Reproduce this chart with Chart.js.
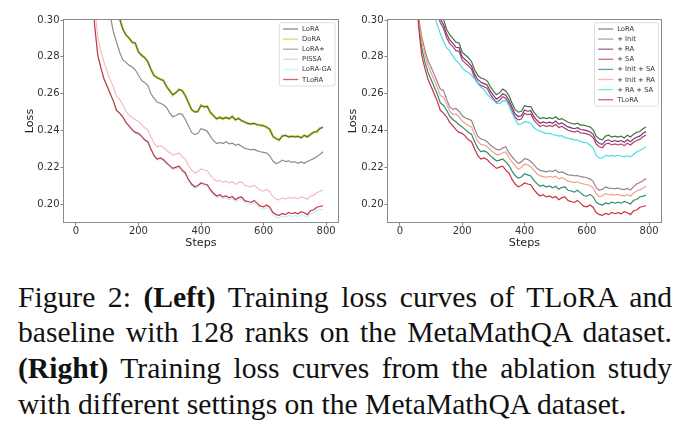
<!DOCTYPE html>
<html><head><meta charset="utf-8">
<script src="https://cdn.jsdelivr.net/npm/chart.js@4.4.1/dist/chart.umd.min.js"></script>
<style>
html,body{margin:0;padding:0;background:#fff;}
body{width:686px;height:440px;position:relative;overflow:hidden;}
canvas{position:absolute;top:0;}
#c1{left:0;} #c2{left:343px;}
#cap{position:absolute;left:18px;top:279.5px;width:654px;font-family:"Liberation Serif","Times New Roman",serif;font-size:29.6px;line-height:35.7px;color:#111;}
#cap div{text-align:justify;text-align-last:justify;}
#cap div.last{text-align:left;text-align-last:left;}
</style></head>
<body>
<canvas id="c1" width="343" height="258"></canvas>
<canvas id="c2" width="343" height="258"></canvas>
<div id="cap">
<div>Figure 2: <b>(Left)</b> Training loss curves of TLoRA and</div>
<div>baseline with 128 ranks on the MetaMathQA dataset.</div>
<div><b>(Right)</b> Training loss curves from the ablation study</div>
<div class="last">with different settings on the MetaMathQA dataset.</div>
</div>
<script>
const steps = [0,10,20,30,40,50,60,70,80,90,
100,110,120,130,140,150,160,170,180,190,
200,210,220,230,240,250,260,270,280,290,
300,310,320,330,340,350,360,370,380,390,
400,410,420,430,440,450,460,470,480,490,
500,510,520,530,540,550,560,570,580,590,
600,610,620,630,640,650,660,670,680,690,
700,710,720,730,740,750,760,770,780,790];

const xTicks = [0,200,400,600,800];
const yTicks = [0.20,0.22,0.24,0.26,0.28,0.30];

const tlora = [0.950,0.720,0.560,0.450,0.380,0.325,0.297,0.281,0.274,0.268,
0.264,0.260,0.256,0.2510,0.2495,0.2475,0.2445,0.2425,0.2405,0.2390,
0.2385,0.2370,0.2350,0.2340,0.2300,0.2265,0.2245,0.2252,0.2243,0.2225,
0.2210,0.2195,0.2202,0.2207,0.2185,0.2170,0.2135,0.2110,0.2095,0.2102,
0.2116,0.2110,0.2106,0.2080,0.2060,0.2045,0.2052,0.2040,0.2046,0.2035,
0.2042,0.2025,0.2036,0.2040,0.2020,0.2015,0.2010,0.2021,0.2005,0.1990,
0.1986,0.1996,0.1984,0.1955,0.1944,0.1940,0.1951,0.1944,0.1956,0.1949,
0.1955,0.1948,0.1960,0.1954,0.1944,0.1965,0.1969,0.1984,0.1988,0.1992];

const loraGA = [0.940,0.710,0.555,0.447,0.378,0.324,0.296,0.2805,0.2735,0.2675,
0.2635,0.2595,0.2555,0.2505,0.2490,0.2470,0.2440,0.2420,0.2400,0.2385,
0.2378,0.2364,0.2344,0.2334,0.2294,0.2259,0.2239,0.2246,0.2236,0.2218,
0.2203,0.2188,0.2194,0.2199,0.2177,0.2162,0.2127,0.2102,0.2087,0.2094,
0.2107,0.2101,0.2097,0.2071,0.2051,0.2036,0.2042,0.2030,0.2036,0.2025,
0.2031,0.2014,0.2025,0.2029,0.2009,0.2003,0.1998,0.2009,0.1993,0.1977,
0.1973,0.1983,0.1971,0.1941,0.1930,0.1926,0.1937,0.1930,0.1941,0.1934,
0.1940,0.1933,0.1944,0.1938,0.1928,0.1948,0.1952,0.1966,0.1970,0.1974];

const pissa = [0.960,0.740,0.580,0.470,0.395,0.337,0.307,0.291,0.283,0.277,
0.272,0.2675,0.2635,0.2585,0.2570,0.2540,0.2505,0.2485,0.2470,0.2460,
0.2450,0.2432,0.2415,0.2405,0.2365,0.2330,0.2312,0.2318,0.2310,0.2292,
0.2280,0.2268,0.2272,0.2278,0.2258,0.2245,0.2210,0.2185,0.2170,0.2176,
0.2192,0.2186,0.2182,0.2158,0.2138,0.2125,0.2130,0.2120,0.2126,0.2116,
0.2124,0.2108,0.2118,0.2122,0.2104,0.2098,0.2095,0.2104,0.2090,0.2076,
0.2072,0.2080,0.2068,0.2040,0.2028,0.2024,0.2035,0.2028,0.2038,0.2032,
0.2037,0.2030,0.2040,0.2035,0.2027,0.2045,0.2050,0.2063,0.2070,0.2078];

const loraPlus = [0.990,0.820,0.680,0.570,0.490,0.425,0.385,0.355,0.335,0.322,
0.311,0.302,0.2935,0.2880,0.2825,0.2785,0.2770,0.2755,0.2745,0.2730,
0.2700,0.2672,0.2660,0.2645,0.2600,0.2575,0.2555,0.2548,0.2540,0.2525,
0.2495,0.2475,0.2482,0.2492,0.2488,0.2460,0.2425,0.2390,0.2378,0.2385,
0.2410,0.2405,0.2396,0.2370,0.2345,0.2330,0.2336,0.2330,0.2340,0.2328,
0.2332,0.2320,0.2326,0.2315,0.2303,0.2300,0.2295,0.2298,0.2290,0.2285,
0.2282,0.2278,0.2262,0.2235,0.2220,0.2228,0.2240,0.2232,0.2236,0.2228,
0.2232,0.2222,0.2230,0.2222,0.2232,0.2240,0.2248,0.2258,0.2270,0.2285];

const lora = [1.000,0.850,0.720,0.620,0.540,0.480,0.430,0.390,0.365,0.345,
0.330,0.318,0.310,0.304,0.3005,0.2950,0.2920,0.2900,0.2880,0.2875,
0.2825,0.2810,0.2795,0.2775,0.2730,0.2700,0.2685,0.2680,0.2670,0.2640,
0.2615,0.2595,0.2605,0.2625,0.2615,0.2590,0.2550,0.2515,0.2500,0.2505,
0.2535,0.2530,0.2530,0.2500,0.2480,0.2465,0.2470,0.2465,0.2470,0.2465,
0.2475,0.2460,0.2465,0.2455,0.2445,0.2440,0.2435,0.2440,0.2430,0.2430,
0.2425,0.2420,0.2405,0.2370,0.2355,0.2350,0.2370,0.2375,0.2365,0.2370,
0.2365,0.2370,0.2360,0.2375,0.2365,0.2380,0.2390,0.2395,0.2410,0.2420];

const dora = [1.000,0.850,0.720,0.620,0.540,0.480,0.430,0.390,0.366,0.346,
0.331,0.319,0.311,0.305,0.3008,0.2953,0.2918,0.2903,0.2878,0.2872,
0.2828,0.2807,0.2798,0.2772,0.2733,0.2698,0.2688,0.2677,0.2673,0.2637,
0.2618,0.2592,0.2608,0.2622,0.2618,0.2587,0.2553,0.2512,0.2503,0.2502,
0.2538,0.2527,0.2533,0.2497,0.2483,0.2462,0.2473,0.2462,0.2473,0.2462,
0.2478,0.2457,0.2468,0.2452,0.2448,0.2437,0.2438,0.2437,0.2433,0.2427,
0.2428,0.2417,0.2408,0.2367,0.2358,0.2347,0.2373,0.2372,0.2368,0.2367,
0.2368,0.2367,0.2363,0.2372,0.2368,0.2377,0.2393,0.2392,0.2413,0.2417];

const plusRA = [1.000,0.840,0.710,0.610,0.530,0.470,0.420,0.382,0.358,0.339,
0.325,0.314,0.306,0.3005,0.2975,0.2925,0.2892,0.2875,0.2852,0.2850,
0.2800,0.2784,0.2770,0.2750,0.2705,0.2676,0.2662,0.2655,0.2647,0.2615,
0.2592,0.2570,0.2582,0.2600,0.2592,0.2566,0.2528,0.2490,0.2476,0.2480,
0.2512,0.2505,0.2508,0.2476,0.2456,0.2440,0.2447,0.2440,0.2446,0.2440,
0.2452,0.2435,0.2442,0.2430,0.2420,0.2415,0.2410,0.2416,0.2406,0.2404,
0.2400,0.2394,0.2380,0.2345,0.2330,0.2325,0.2345,0.2350,0.2340,0.2346,
0.2340,0.2346,0.2336,0.2350,0.2340,0.2355,0.2364,0.2370,0.2385,0.2395];

const plusSA = [0.990,0.830,0.700,0.600,0.520,0.460,0.415,0.378,0.354,0.336,
0.322,0.311,0.3035,0.2985,0.2955,0.2905,0.2872,0.2856,0.2834,0.2830,
0.2782,0.2766,0.2752,0.2733,0.2688,0.2658,0.2645,0.2638,0.2630,0.2598,
0.2574,0.2553,0.2564,0.2583,0.2575,0.2549,0.2510,0.2472,0.2458,0.2463,
0.2494,0.2487,0.2490,0.2458,0.2438,0.2422,0.2430,0.2422,0.2428,0.2422,
0.2434,0.2417,0.2424,0.2412,0.2402,0.2397,0.2392,0.2398,0.2388,0.2386,
0.2382,0.2376,0.2362,0.2327,0.2312,0.2307,0.2327,0.2332,0.2322,0.2328,
0.2322,0.2328,0.2318,0.2332,0.2322,0.2337,0.2346,0.2352,0.2366,0.2376];

const plusRASA = [0.980,0.810,0.680,0.580,0.500,0.440,0.395,0.360,0.340,0.325,
0.312,0.303,0.2975,0.2925,0.2885,0.2850,0.2832,0.2805,0.2780,0.2765,
0.2740,0.2725,0.2715,0.2700,0.2680,0.2655,0.2635,0.2625,0.2598,0.2580,
0.2565,0.2548,0.2546,0.2560,0.2565,0.2535,0.2495,0.2460,0.2432,0.2436,
0.2448,0.2446,0.2440,0.2415,0.2405,0.2396,0.2390,0.2384,0.2386,0.2378,
0.2376,0.2370,0.2372,0.2362,0.2358,0.2355,0.2348,0.2350,0.2340,0.2336,
0.2334,0.2322,0.2305,0.2265,0.2250,0.2252,0.2266,0.2262,0.2265,0.2260,
0.2266,0.2262,0.2258,0.2264,0.2256,0.2270,0.2284,0.2292,0.2302,0.2312];

const plusInit = [0.960,0.740,0.580,0.470,0.395,0.338,0.302,0.291,0.284,0.278,
0.2745,0.2705,0.2665,0.2625,0.2618,0.2570,0.2528,0.2515,0.2520,0.2505,
0.2480,0.2468,0.2462,0.2455,0.2410,0.2370,0.2355,0.2350,0.2340,0.2322,
0.2310,0.2298,0.2295,0.2305,0.2312,0.2280,0.2258,0.2238,0.2222,0.2230,
0.2248,0.2244,0.2232,0.2215,0.2195,0.2184,0.2180,0.2176,0.2182,0.2178,
0.2186,0.2172,0.2176,0.2168,0.2160,0.2158,0.2155,0.2156,0.2150,0.2148,
0.2144,0.2138,0.2125,0.2090,0.2076,0.2082,0.2094,0.2088,0.2086,0.2085,
0.2088,0.2082,0.2080,0.2086,0.2078,0.2096,0.2110,0.2118,0.2128,0.2140];

const plusInitRA = [0.955,0.735,0.575,0.465,0.392,0.335,0.300,0.2885,0.2815,0.2755,
0.2715,0.2675,0.2635,0.2590,0.2580,0.2545,0.2505,0.2488,0.2490,0.2474,
0.2452,0.2438,0.2428,0.2420,0.2378,0.2340,0.2325,0.2322,0.2312,0.2296,
0.2282,0.2270,0.2270,0.2280,0.2284,0.2254,0.2230,0.2208,0.2192,0.2200,
0.2218,0.2214,0.2204,0.2186,0.2166,0.2154,0.2150,0.2146,0.2152,0.2146,
0.2152,0.2138,0.2144,0.2136,0.2126,0.2122,0.2118,0.2122,0.2114,0.2110,
0.2106,0.2102,0.2090,0.2056,0.2042,0.2046,0.2058,0.2052,0.2054,0.2050,
0.2054,0.2048,0.2046,0.2052,0.2044,0.2062,0.2072,0.2078,0.2088,0.2098];

const plusInitSA = [0.952,0.728,0.568,0.458,0.386,0.330,0.299,0.2850,0.2775,0.2718,
0.2678,0.2638,0.2598,0.2550,0.2538,0.2512,0.2478,0.2460,0.2448,0.2432,
0.2420,0.2405,0.2390,0.2380,0.2340,0.2305,0.2286,0.2290,0.2282,0.2264,
0.2250,0.2236,0.2240,0.2246,0.2230,0.2212,0.2180,0.2156,0.2142,0.2148,
0.2166,0.2160,0.2154,0.2130,0.2112,0.2098,0.2104,0.2094,0.2100,0.2090,
0.2098,0.2082,0.2092,0.2094,0.2076,0.2072,0.2066,0.2076,0.2062,0.2048,
0.2044,0.2054,0.2042,0.2012,0.2000,0.1996,0.2008,0.2002,0.2012,0.2006,
0.2012,0.2006,0.2016,0.2010,0.2002,0.2022,0.2026,0.2040,0.2044,0.2050];

const X_MIN = -38, X_MAX = 838, Y_MIN = 0.1904, Y_MAX = 0.30;
const FONT = "'DejaVu Sans', sans-serif";

function pts(vals){ return steps.map((s,i)=>({x:s, y:vals[i]})); }
function ds(label, vals, color, order, width){
  return {label, data: pts(vals), borderColor: color, backgroundColor: color,
          borderWidth: width || 1.2, pointRadius: 0, tension: 0, fill: false, order};
}

const framePlugin = {
  id: 'frame',
  afterDatasetsDraw(chart){
    const {ctx, chartArea: a} = chart;
    ctx.save();
    ctx.strokeStyle = '#8a8a8a';
    ctx.lineWidth = 1;
    const l = Math.round(a.left) - 0.5, t = Math.round(a.top) - 0.5;
    const r = Math.round(a.right) + 0.5, b = Math.round(a.bottom) + 0.5;
    ctx.strokeRect(l, t, r - l, b - t);
    ctx.restore();
  }
};

const boxLegend = {
  id: 'boxLegend',
  afterDraw(chart, args, opts){
    const {ctx, chartArea: a} = chart;
    const sets = chart.data.datasets;
    ctx.save();
    ctx.font = '6.8px ' + FONT;
    let maxW = 0;
    sets.forEach(d => { maxW = Math.max(maxW, ctx.measureText(d.label).width); });
    const w = 3.7 + 15 + 4 + maxW + 3.5;
    const rowH = 10.1;
    const h = 6.3 + (sets.length - 1) * rowH + 6.5;
    const x0 = a.right - opts.right - w, y0 = a.top + opts.top;
    ctx.beginPath();
    ctx.roundRect(x0, y0, w, h, 2);
    ctx.fillStyle = 'rgba(255,255,255,0.9)';
    ctx.fill();
    ctx.strokeStyle = '#d6d6d6';
    ctx.lineWidth = 0.8;
    ctx.stroke();
    sets.forEach((d, i) => {
      const y = y0 + 6.3 + i * rowH;
      ctx.globalAlpha = 0.75;
      ctx.strokeStyle = d.borderColor;
      ctx.lineWidth = 1.3;
      ctx.beginPath();
      ctx.moveTo(x0 + 3.7, y); ctx.lineTo(x0 + 18.7, y);
      ctx.stroke();
      ctx.globalAlpha = 1;
      ctx.fillStyle = '#333';
      ctx.textBaseline = 'middle';
      ctx.textAlign = 'left';
      ctx.fillText(d.label, x0 + 22.7, y + 0.3);
    });
    ctx.restore();
  }
};

function makeChart(id, datasets, g){
  const W = 343, H = 258;
  return new Chart(document.getElementById(id), {
    type: 'line',
    data: { datasets },
    plugins: [framePlugin, boxLegend],
    options: {
      responsive: false, animation: false,
      layout: { padding: { left: 0, top: g.top, right: W - g.right, bottom: 0 } },
      plugins: { legend: { display: false }, tooltip: { enabled: false },
                 boxLegend: { right: g.legRight, top: 2.7 } },
      scales: {
        x: {
          type: 'linear', min: X_MIN, max: X_MAX,
          afterBuildTicks: s => { s.ticks = xTicks.map(v => ({value: v})); },
          afterFit: s => { s.height = H - g.bottom; },
          ticks: { font: {family: FONT, size: 10}, color: '#333', padding: 0, maxRotation: 0, autoSkip: false },
          grid: { drawOnChartArea: false, drawTicks: true, tickLength: 3.5, tickColor: '#666', tickWidth: 0.8 },
          border: { display: false },
          title: { display: true, text: 'Steps', font: {family: FONT, size: 11.2}, color: '#222', padding: {top: 0, bottom: 8} }
        },
        y: {
          type: 'linear', min: Y_MIN, max: Y_MAX,
          afterBuildTicks: s => { s.ticks = yTicks.map(v => ({value: v})); },
          afterFit: s => { s.width = g.left; },
          ticks: { font: {family: FONT, size: 10}, color: '#333', padding: 1, callback: v => v.toFixed(2) },
          grid: { drawOnChartArea: false, drawTicks: true, tickLength: 3.5, tickColor: '#666', tickWidth: 0.8 },
          border: { display: false },
          title: { display: true, text: 'Loss', font: {family: FONT, size: 11.2}, color: '#222', padding: {top: g.titleX - 6.72, bottom: 0} }
        }
      }
    }
  });
}

const C = {
  lora: '#3f7a3a', dora: '#e2c23a', loraPlus: '#8c8c8c', pissa: '#f3bcc4', loraGA: '#c4eef3', tlora: '#c8323c',
  init: '#958585', ra: '#842c84', sa: '#a8456a', initSA: '#2e8a74', initRA: '#eea487', raSA: '#48dfe9'
};

makeChart('c1', [
  ds('LoRA', lora, C.lora, 2, 1.1),
  ds('DoRA', dora, C.dora, 3, 2.2),
  ds('LoRA+', loraPlus, C.loraPlus, 6),
  ds('PISSA', pissa, C.pissa, 5),
  ds('LoRA-GA', loraGA, C.loraGA, 4),
  ds('TLoRA', tlora, C.tlora, 1)
], {left: 64, right: 338, top: 20, bottom: 222, titleX: 30, legRight: 3});

makeChart('c2', [
  ds('LoRA', lora, C.lora, 8),
  ds('+ Init', plusInit, C.init, 7),
  ds('+ RA', plusRA, C.ra, 6),
  ds('+ SA', plusSA, C.sa, 5),
  ds('+ Init + SA', plusInitSA, C.initSA, 4),
  ds('+ Init + RA', plusInitRA, C.initRA, 3),
  ds('+ RA + SA', plusRASA, C.raSA, 2),
  ds('TLoRA', tlora, C.tlora, 1)
], {left: 45, right: 318, top: 20, bottom: 222, titleX: 10.3, legRight: 2.5});
</script>
</body></html>
